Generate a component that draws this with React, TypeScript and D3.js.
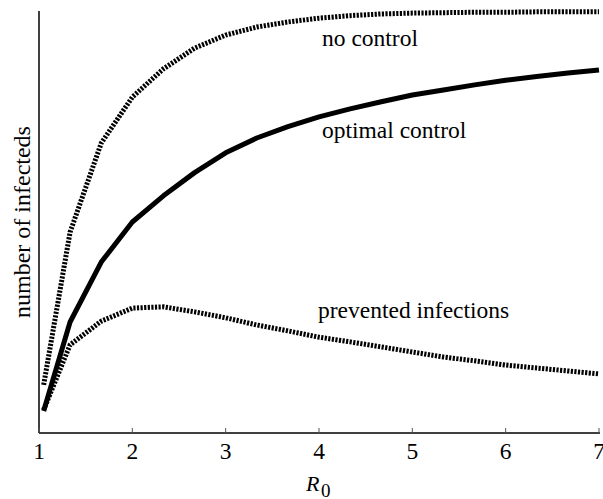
import React from "react";
import * as d3 from "d3";

// R0 sample points (first one slightly above 1)
const r0Values = [1.05, 1.333, 1.667, 2, 2.333, 2.667, 3, 3.333, 3.667, 4, 4.333, 4.667, 5, 5.333, 5.667, 6, 6.333, 6.667, 7];

const noControl = [11.4, 47.6, 68.7, 79.6, 86.3, 91.2, 94.3, 96.2, 97.4, 98.3, 98.9, 99.3, 99.5, 99.6, 99.7, 99.7, 99.8, 99.8, 99.8];
const optimalControl = [5.2, 26.3, 40.5, 50.0, 56.2, 61.7, 66.4, 69.9, 72.6, 74.9, 76.8, 78.5, 80.1, 81.3, 82.5, 83.6, 84.5, 85.3, 86.0];
const prevented = [5.5, 20.9, 26.5, 29.6, 29.9, 28.7, 27.3, 25.6, 24.2, 22.7, 21.6, 20.4, 19.2, 18.0, 17.1, 16.1, 15.4, 14.7, 14.0];

const xTicks = [1, 2, 3, 4, 5, 6, 7];

const seriesLabels = ["no control", "optimal control", "prevented infections"];

const W = 603;
const H = 499;
const margin = { top: 11, right: 4, bottom: 66, left: 39 };
const serif = "Liberation Serif";

export default function App() {
  const x = d3.scaleLinear().domain([1, 7]).range([margin.left, W - margin.right]);
  const y = d3.scaleLinear().domain([0, 100]).range([H - margin.bottom, margin.top]);

  const line = d3
    .line<number>()
    .x((_, i) => x(r0Values[i]))
    .y((d) => y(d));

  const axisY = H - margin.bottom;

  return (
    <svg width={W} height={H} style={{ position: "absolute", left: 0, top: 0, background: "#fff" }}>
      <style>{`.chart text { font-family: "Liberation Serif", "Tinos", "FreeSerif" !important; }`}</style>
      <g className="chart" fontFamily={serif}>
        {/* axes */}
        <line x1={margin.left} x2={margin.left} y1={margin.top} y2={axisY} stroke="#000" strokeWidth={1.5} />
        <line x1={margin.left} x2={W - margin.right + 1} y1={axisY} y2={axisY} stroke="#000" strokeWidth={1.5} />
        {xTicks.map((t) => (
          <g key={t}>
            <line x1={x(t)} x2={x(t)} y1={axisY} y2={axisY - 5} stroke="#555" strokeWidth={1} />
            <text x={x(t)} y={459} textAnchor="middle" fontSize={23.5}>
              {t}
            </text>
          </g>
        ))}

        {/* curves */}
        <path d={line(noControl) ?? ""} fill="none" stroke="#000" strokeWidth={5} strokeDasharray="2.2 1.4" />
        <path d={line(optimalControl) ?? ""} fill="none" stroke="#000" strokeWidth={5} strokeLinejoin="round" />
        <path d={line(prevented) ?? ""} fill="none" stroke="#000" strokeWidth={5} strokeDasharray="2.2 1.4" />

        {/* labels */}
        <text x={322} y={46} fontSize={23.5}>{seriesLabels[0]}</text>
        <text x={322} y={138} fontSize={23.5}>{seriesLabels[1]}</text>
        <text x={318} y={318} fontSize={23.5}>{seriesLabels[2]}</text>

        <text
          transform={`translate(30, ${(margin.top + axisY) / 2}) rotate(-90)`}
          textAnchor="middle"
          fontSize={24}
        >
          number of infecteds
        </text>

        <text x={306} y={491} fontSize={22} fontStyle="italic">
          R
        </text>
        <text x={321} y={497} fontSize={19}>
          0
        </text>
      </g>
    </svg>
  );
}
